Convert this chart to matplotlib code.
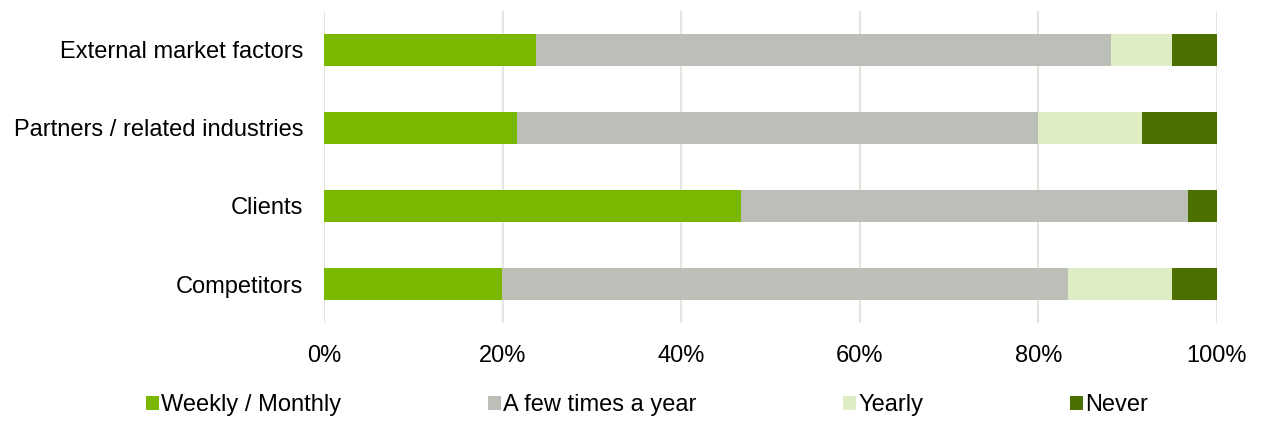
import matplotlib.pyplot as plt
import numpy as np

plt.rcParams['font.family'] = ['Liberation Sans', 'DejaVu Sans']

# Data (percent of respondents)
categories = ["Competitors", "Clients", "Partners / related industries", "External market factors"]
series_names = ["Weekly / Monthly", "A few times a year", "Yearly", "Never"]
weekly = [19.9, 46.7, 21.6, 23.7]
few_times = [63.4, 50.1, 58.4, 64.4]
yearly = [11.7, 0.0, 11.6, 6.9]
never = [5.0, 3.2, 8.4, 5.0]
colors = ["#7AB800", "#BBBFB8", "#DEEDC4", "#4B7000"]

fig = plt.figure(figsize=(12.61, 4.21), dpi=100)
ax = fig.add_axes([324 / 1261, 1 - 323 / 421, 893 / 1261, 312 / 421])

y = np.arange(len(categories))
left = np.zeros(len(categories))
for name, vals, col in zip(series_names, [weekly, few_times, yearly, never], colors):
    ax.barh(y, vals, left=left, height=0.4, color=col, label=name, zorder=3)
    left += np.array(vals)

ax.set_xlim(0, 100)
ax.set_ylim(-0.5, len(categories) - 0.5)
ax.set_xticks(np.arange(0, 101, 20))
ax.set_xticklabels([f"{v}%" for v in range(0, 101, 20)])
ax.set_yticks(y)
ax.set_yticklabels(categories)
ax.tick_params(axis='both', length=0, labelsize=17, colors='black')
ax.tick_params(axis='x', pad=16)
ax.tick_params(axis='y', pad=15)
ax.grid(axis='x', color='#E3E5E1', linewidth=1.5, zorder=0)
for s in ax.spines.values():
    s.set_visible(False)

fig.legend(loc='center', bbox_to_anchor=(0.513, 1 - 405 / 421), ncol=4, frameon=False,
           fontsize=17, handlelength=0.55, handleheight=0.55, handletextpad=0.1,
           columnspacing=6.2)

plt.savefig("out.png", dpi=100)
plt.close()
